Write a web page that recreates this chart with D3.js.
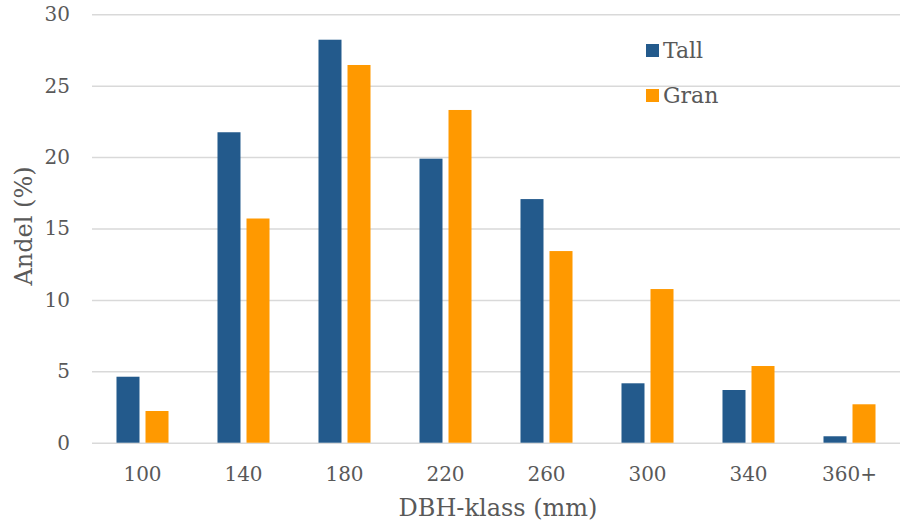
<!DOCTYPE html>
<html><head><meta charset="utf-8">
<script src="https://cdn.jsdelivr.net/npm/d3@7"></script>
<style>body{margin:0;background:#fff}svg{display:block}</style>
</head><body>
<svg id="c" width="905" height="530"></svg>
<script>
const categories = ["100","140","180","220","260","300","340","360+"];
const seriesNames = ["Tall","Gran"];
const tall = [4.62, 21.74, 28.22, 19.89, 17.06, 4.16, 3.69, 0.45];
const gran = [2.22, 15.70, 26.45, 23.30, 13.42, 10.76, 5.37, 2.69];
const yTicks = [0,5,10,15,20,25,30];
const colors = ["#235a8c","#ff9900"];
const font = "Georgia, 'DejaVu Serif', serif";
const textColor = "#595959";

const svg = d3.select("#c");
const mLeft = 92, mRight = 900, mTop = 14.3, mBottom = 442.7;
const x0 = d3.scaleBand().domain(categories).range([mLeft,mRight]).paddingInner(0.485).paddingOuter(0.2425);
const x1 = d3.scaleBand().domain(seriesNames).range([0,x0.bandwidth()]).paddingInner(0.207).paddingOuter(0);
const y = d3.scaleLinear().domain([0,30]).range([mBottom,mTop]);

// gridlines
const yAxis = d3.axisLeft(y).tickValues(yTicks).tickSize(-(mRight-mLeft)).tickPadding(22);
const gy = svg.append("g").attr("transform",`translate(${mLeft},0)`).call(yAxis);
gy.select(".domain").remove();
gy.selectAll(".tick line").attr("stroke","#d9d9d9").attr("stroke-width",1.5);
gy.selectAll(".tick text").attr("font-family",font).attr("font-size",20).attr("fill",textColor);

const data = categories.map((c,i)=>({cat:c, vals:[{s:"Tall",v:tall[i]},{s:"Gran",v:gran[i]}]}));
const groups = svg.append("g").selectAll("g").data(data).join("g")
  .attr("transform",d=>`translate(${x0(d.cat)},0)`);
groups.selectAll("rect").data(d=>d.vals).join("rect")
  .attr("x",d=>x1(d.s)).attr("width",x1.bandwidth())
  .attr("y",d=>y(d.v)).attr("height",d=>y(0)-y(d.v))
  .attr("fill",(d,i)=>colors[i]);

// x axis
const xAxis = d3.axisBottom(x0).tickSize(0).tickPadding(24);
const gx = svg.append("g").attr("transform",`translate(0,${mBottom})`).call(xAxis);
gx.select(".domain").remove();
gx.selectAll(".tick text").attr("font-family",font).attr("font-size",20).attr("fill",textColor);

// axis titles
svg.append("text").attr("x",498).attr("y",516).attr("text-anchor","middle")
  .attr("font-family",font).attr("font-size",24).attr("fill",textColor).text("DBH-klass (mm)");
svg.append("text").attr("transform","translate(32,226) rotate(-90)").attr("text-anchor","middle")
  .attr("font-family",font).attr("font-size",24).attr("fill",textColor).text("Andel (%)");

// legend
const leg = svg.append("g").selectAll("g").data(seriesNames).join("g")
  .attr("transform",(d,i)=>`translate(646,${44+i*45})`);
leg.append("rect").attr("width",13).attr("height",13).attr("fill",(d,i)=>colors[i]);
leg.append("text").attr("x",17).attr("y",13.5).attr("font-family",font).attr("font-size",22)
  .attr("fill",textColor).text(d=>d);
</script>
</body></html>
